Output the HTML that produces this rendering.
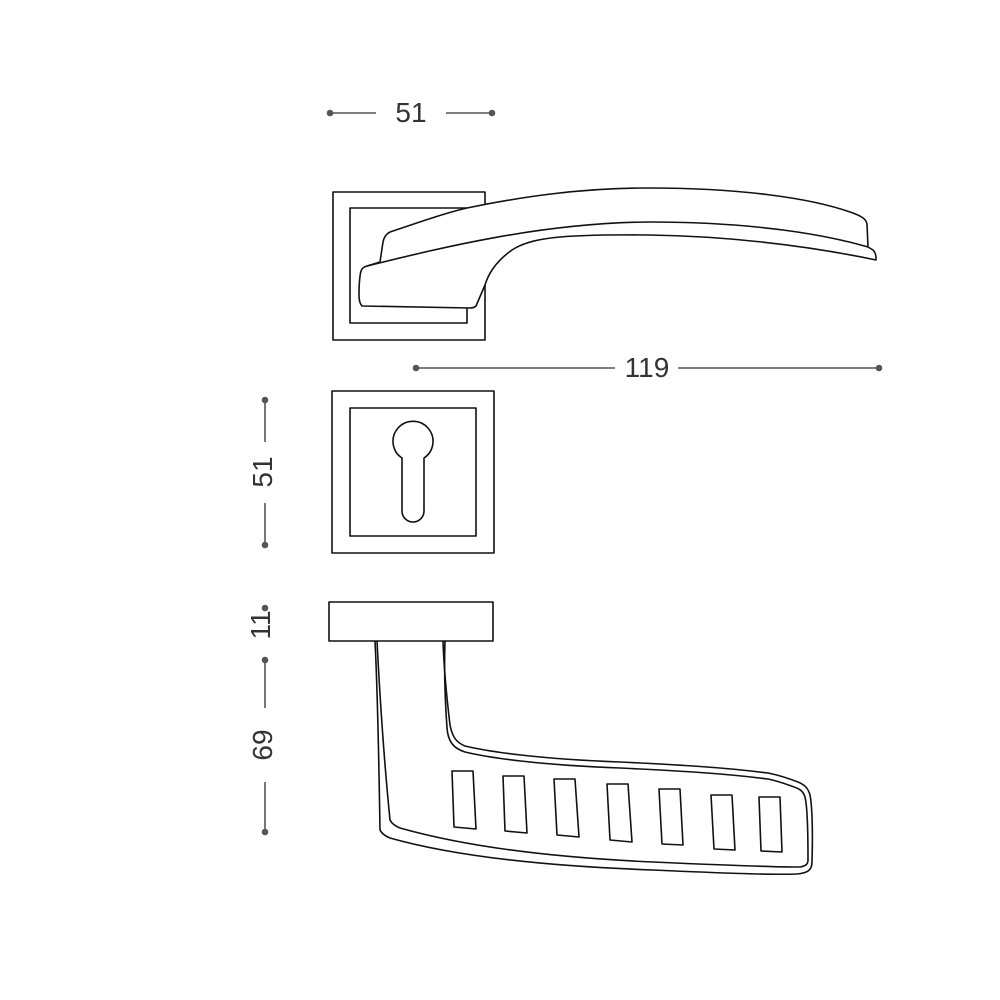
<!DOCTYPE html>
<html><head><meta charset="utf-8"><style>
html,body{margin:0;padding:0;background:#fff}
svg{display:block}
text{font-family:"Liberation Sans",sans-serif;font-weight:300;fill:#333;font-size:28px}
</style></head><body>
<svg width="1000" height="1000" viewBox="0 0 1000 1000" xmlns="http://www.w3.org/2000/svg">
<g stroke="#555" stroke-width="1.6" fill="#555">
<line x1="330" y1="113" x2="376" y2="113"/><line x1="446" y1="113" x2="492" y2="113"/>
<circle cx="330" cy="113" r="2.5"/><circle cx="492" cy="113" r="2.5"/>
<line x1="416" y1="368" x2="615" y2="368"/><line x1="678" y1="368" x2="879" y2="368"/>
<circle cx="416" cy="368" r="2.5"/><circle cx="879" cy="368" r="2.5"/>
<line x1="265" y1="400" x2="265" y2="442"/><line x1="265" y1="503" x2="265" y2="545"/>
<circle cx="265" cy="400" r="2.5"/><circle cx="265" cy="545" r="2.5"/>
<line x1="265" y1="660" x2="265" y2="708"/><line x1="265" y1="782" x2="265" y2="832"/>
<circle cx="265" cy="608" r="2.5"/><circle cx="265" cy="660" r="2.5"/><circle cx="265" cy="832" r="2.5"/>
</g>
<text x="411" y="122" text-anchor="middle">51</text>
<text x="647" y="377" text-anchor="middle" font-size="24">119</text>
<text transform="translate(272,472) rotate(-90)" text-anchor="middle">51</text>
<text transform="translate(270,625) rotate(-90)" text-anchor="middle" font-size="26">11</text>
<text transform="translate(272,745) rotate(-90)" text-anchor="middle">69</text>

<g stroke="#111" stroke-width="1.6" fill="none" stroke-linejoin="round">
<!-- top rosette -->
<rect x="333" y="192" width="152" height="148"/>
<rect x="350" y="208" width="117" height="115"/>
<!-- handle top view -->
<path fill="#fff" d="M380 262 L383 242 C384 237 386 234 390 232 C420 222 445 213 467 208 C520 197 580 188 649 188 C740 188 810 198 850 212 C862 216 866 219 867 224 L868 247 L873 250 C876 253 876 256 876 260 C800 244 720 236 649 235 C560 234 530 238 512 250 C495 262 488 275 485 285 L476 306 C474 308 472 308 470 308 L362 306 C360 304 359 300 359 295 C359 285 360 275 361 271 C362 268 364 267 367 266 Z"/>
<path d="M367 266 C440 248 540 223 649 222 C760 222 830 236 868 247"/>
</g>
<g stroke="#111" stroke-width="1.6" fill="none" stroke-linejoin="round">
<!-- keyhole rosette -->
<rect x="332" y="391" width="162" height="162"/>
<rect x="350" y="408" width="126" height="128"/>
<path d="M402 458 A20 20 0 1 1 424 458 L424 511 A11 11 0 0 1 402 511 Z"/>
<!-- side view -->
<rect x="329" y="602" width="164" height="39"/>
<path d="M375 641 C378 700 379 770 380 830 C382 834 385 836 390 838 C450 855 540 866 653 870 C720 873 770 875 797 874 C808 873 812 870 812 862 C813 830 812 805 810 795 C808 788 805 785 798 782 C785 777 778 775 768 773 C720 767 680 765 620 762 C540 759 490 752 465 746 C455 742 452 735 450 725 C447 700 444 670 443 641"/>
<path d="M377 641 C380 700 385 770 390 820 C392 824 395 826 400 828 C460 845 540 857 653 862 C720 865 770 867 800 867 C806 866 808 864 808 860 C808 830 807 805 805 797 C803 791 800 789 794 787 C783 783 778 781 768 779 C720 773 680 771 620 768 C540 765 490 758 465 752 C452 748 448 740 447 728 C445 700 444 670 445 641"/>
<polygon points="452,771 473,771 476,829 454,827"/>
<polygon points="503,776 524,776 527,833 505,831"/>
<polygon points="554,779 575,779 579,837 557,835"/>
<polygon points="607,784 628,784 632,842 610,840"/>
<polygon points="659,789 680,789 683,845 662,844"/>
<polygon points="711,795 732,795 735,850 714,849"/>
<polygon points="759,797 780,797 782,852 761,851"/>
</g>
</svg>
</body></html>
